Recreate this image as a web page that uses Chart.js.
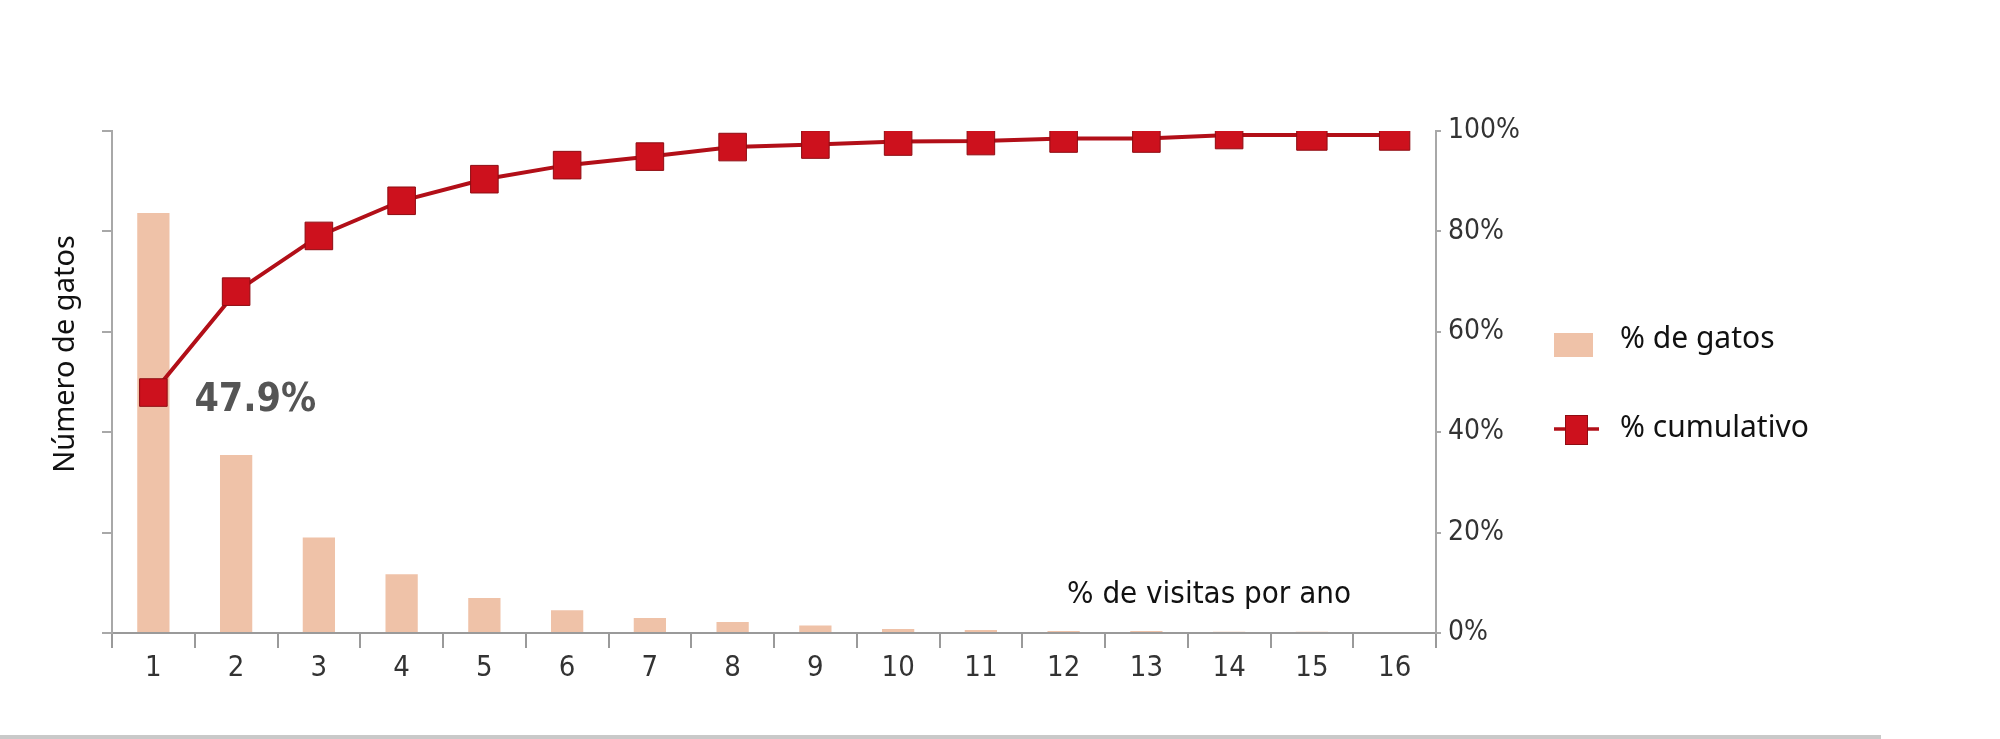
<!DOCTYPE html>
<html>
<head>
<meta charset="utf-8">
<script src="https://cdn.jsdelivr.net/npm/chart.js@4/dist/chart.umd.min.js"></script>
<style>
  html, body { margin: 0; padding: 0; background: #ffffff; }
  #wrap { width: 2000px; height: 739px; position: relative; }
</style>
</head>
<body>
<div id="wrap"><canvas id="c" width="2000" height="739"></canvas></div>
<script>
const categories = ['1','2','3','4','5','6','7','8','9','10','11','12','13','14','15','16'];
const catPercent = [47.9, 20.3, 10.9, 6.7, 4.0, 2.6, 1.7, 1.25, 0.85, 0.46, 0.34, 0.23, 0.23, 0.15, 0.15, 0.11];
const cumulativePercent = [47.9, 68.0, 79.1, 86.1, 90.4, 93.2, 94.9, 96.8, 97.3, 97.9, 98.0, 98.5, 98.5, 99.2, 99.2, 99.2];
const rightTickValues = [0, 20, 40, 60, 80, 100];
const leftAxisMax = 57.25;
const leftTickCount = 5;
const seriesNames = ['% de gatos', '% cumulativo'];
const xTitle = '% de visitas por ano';
const yTitle = 'Número de gatos';

const BAR_COLOR = '#efc2a8';
const LINE_COLOR = '#b20f18';
const MARK_FILL = '#cd111d';
const MARK_EDGE = '#8e0c12';
const AXIS_COLOR = '#a8a8a8';
const COND = "'DejaVu Sans Condensed', 'DejaVu Sans', sans-serif";
const SANS = "'Noto Sans', 'DejaVu Sans', sans-serif";

const decor = {
  id: 'decor',
  afterDraw(chart) {
    const ctx = chart.ctx;
    const xs = chart.scales.x, yR = chart.scales.yR, area = chart.chartArea;
    ctx.save();
    ctx.font = "bold 39px " + COND;
    ctx.fillStyle = '#555555';
    ctx.textAlign = 'left';
    ctx.textBaseline = 'alphabetic';
    ctx.fillText(cumulativePercent[0].toFixed(1) + '%', xs.getPixelForValue(0) + 41, yR.getPixelForValue(cumulativePercent[0]) + 18);

    ctx.font = "31px " + COND;
    ctx.fillStyle = '#111111';
    ctx.textAlign = 'center';
    ctx.fillText(xTitle, area.right - 227, area.bottom - 30);

    ctx.save();
    ctx.translate(74, 354);
    ctx.rotate(-Math.PI / 2);
    ctx.font = "29px " + SANS;
    ctx.fillStyle = '#111111';
    ctx.textAlign = 'center';
    ctx.fillText(yTitle, 0, 0);
    ctx.restore();

    ctx.font = "30px " + SANS;
    ctx.fillStyle = BAR_COLOR;
    ctx.fillRect(1554, 333, 39, 24);
    ctx.fillStyle = '#111111';
    ctx.textAlign = 'left';
    ctx.fillText(seriesNames[0], 1620, 348);

    ctx.strokeStyle = LINE_COLOR;
    ctx.lineWidth = 3.5;
    ctx.beginPath();
    ctx.moveTo(1554, 429);
    ctx.lineTo(1599, 429);
    ctx.stroke();
    ctx.fillStyle = MARK_FILL;
    ctx.fillRect(1565, 415, 23, 30);
    ctx.strokeStyle = MARK_EDGE;
    ctx.lineWidth = 1;
    ctx.strokeRect(1565.5, 415.5, 22, 29);
    ctx.fillStyle = '#111111';
    ctx.fillText(seriesNames[1], 1620, 437);

    ctx.fillStyle = '#c9c9c9';
    ctx.fillRect(0, 735, 1881, 4);
    ctx.restore();
  }
};

new Chart(document.getElementById('c'), {
  data: {
    labels: categories,
    datasets: [
      {
        type: 'line',
        label: seriesNames[1],
        data: cumulativePercent,
        yAxisID: 'yR',
        order: 0,
        borderColor: LINE_COLOR,
        borderWidth: 4,
        tension: 0,
        pointStyle: 'rect',
        pointRadius: (c) => (c.dataIndex >= 14 ? 21.5 : 19.5),
        pointBackgroundColor: MARK_FILL,
        pointBorderColor: MARK_EDGE,
        pointBorderWidth: 1
      },
      {
        type: 'bar',
        label: seriesNames[0],
        data: catPercent,
        yAxisID: 'yL',
        order: 1,
        backgroundColor: BAR_COLOR,
        borderWidth: 0,
        barPercentage: 0.39,
        categoryPercentage: 1.0
      }
    ]
  },
  options: {
    responsive: false,
    devicePixelRatio: 1,
    animation: false,
    layout: { padding: { top: 131, left: 0, right: 0, bottom: 0 } },
    plugins: { legend: { display: false }, tooltip: { enabled: false } },
    scales: {
      x: {
        type: 'category',
        offset: true,
        grid: { offset: true, drawOnChartArea: false, tickLength: 15, color: '#9a9a9a', lineWidth: 2 },
        border: { color: '#9a9a9a', width: 2 },
        ticks: { font: { family: COND, size: 29 }, color: '#333333', padding: 3, maxRotation: 0, autoSkip: false },
        afterFit: (s) => { s.height = 106; }
      },
      yL: {
        position: 'left',
        min: 0,
        max: leftAxisMax,
        afterBuildTicks: (s) => { s.ticks = Array.from({ length: leftTickCount + 1 }, (_, i) => ({ value: i * leftAxisMax / leftTickCount })); },
        ticks: { display: false },
        grid: { drawOnChartArea: false, tickLength: 10, color: AXIS_COLOR, lineWidth: 2 },
        border: { color: AXIS_COLOR, width: 2 },
        afterFit: (s) => { s.width = 112; }
      },
      yR: {
        position: 'right',
        min: 0,
        max: 100,
        afterBuildTicks: (s) => { s.ticks = rightTickValues.map(v => ({ value: v })); },
        ticks: { font: { family: COND, size: 28 }, color: '#333333', padding: 7, callback: (v) => v + '%' },
        grid: { drawOnChartArea: false, tickLength: 5, color: AXIS_COLOR, lineWidth: 2 },
        border: { color: AXIS_COLOR, width: 2 },
        afterFit: (s) => { s.width = 564; }
      }
    }
  },
  plugins: [decor]
});
</script>
</body>
</html>
